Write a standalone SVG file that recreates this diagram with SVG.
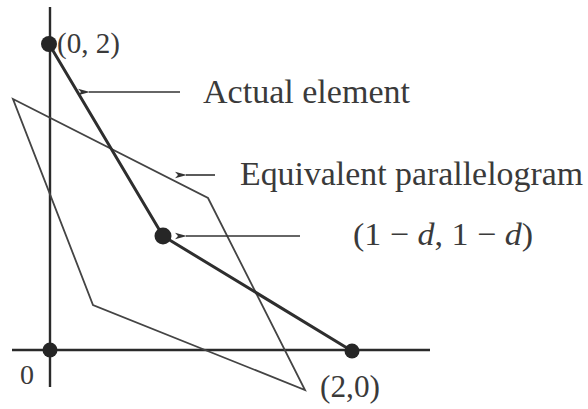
<svg xmlns="http://www.w3.org/2000/svg" width="588" height="409" viewBox="0 0 588 409">
  <style>
    .axis { stroke: #2a2a2a; stroke-width: 2.4; fill: none; }
    .elem { stroke: #2e2e2e; stroke-width: 3; fill: none; stroke-linejoin: round; }
    .para { stroke: #444444; stroke-width: 1.8; fill: none; stroke-linejoin: miter; }
    .dot { fill: #262626; }
    .lead { stroke: #333; stroke-width: 1.6; fill: none; }
    .lbl { font-family: "Liberation Serif", "DejaVu Serif", serif; fill: #3a3a3a; }
    .it { font-style: italic; }
  </style>
  <defs>
    <marker id="arr" viewBox="0 0 12 8" refX="1" refY="4" markerWidth="12" markerHeight="8" markerUnits="userSpaceOnUse" orient="auto-start-reverse">
      <path d="M0,4 L12,0.8 L9,4 L12,7.2 Z" fill="#333"/>
    </marker>
  </defs>
  <rect width="588" height="409" fill="#ffffff"/>

  <g id="axes">
    <line class="axis" x1="50" y1="7" x2="50" y2="387"/>
    <line class="axis" x1="12" y1="350" x2="430" y2="350"/>
  </g>

  <g id="parallelogram">
    <polygon class="para" points="13,99 208,198 305,390 93,305"/>
  </g>

  <g id="actual-element">
    <polyline class="elem" points="49,44 163,236 352,351"/>
  </g>

  <g id="connectors">
    <line class="lead" x1="180" y1="92" x2="89" y2="92" marker-end="url(#arr)"/>
    <line class="lead" x1="215" y1="175" x2="186" y2="175" marker-end="url(#arr)"/>
    <line class="lead" x1="300" y1="236" x2="186" y2="236" marker-end="url(#arr)"/>
  </g>

  <g id="node-02">
    <circle class="dot" cx="49" cy="44" r="8"/>
    <text class="lbl" x="57" y="53" font-size="30" textLength="63" lengthAdjust="spacingAndGlyphs">(0, 2)</text>
  </g>
  <g id="node-origin">
    <circle class="dot" cx="50" cy="350" r="7.5"/>
    <text class="lbl" x="20" y="384" font-size="28">0</text>
  </g>
  <g id="node-20">
    <circle class="dot" cx="352" cy="351" r="7.5"/>
    <text class="lbl" x="320" y="397" font-size="31" textLength="60" lengthAdjust="spacingAndGlyphs">(2,0)</text>
  </g>
  <g id="node-mid">
    <circle class="dot" cx="163" cy="236" r="8.5"/>
    <text class="lbl" x="353" y="245" font-size="32" textLength="180" lengthAdjust="spacingAndGlyphs">(1 − <tspan class="it">d</tspan>, 1 − <tspan class="it">d</tspan>)</text>
  </g>
  <g id="label-actual">
    <text class="lbl" x="203" y="103" font-size="33" textLength="207" lengthAdjust="spacingAndGlyphs">Actual element</text>
  </g>
  <g id="label-equivalent">
    <text class="lbl" x="240" y="185" font-size="33" textLength="343" lengthAdjust="spacingAndGlyphs">Equivalent parallelogram</text>
  </g>
</svg>
